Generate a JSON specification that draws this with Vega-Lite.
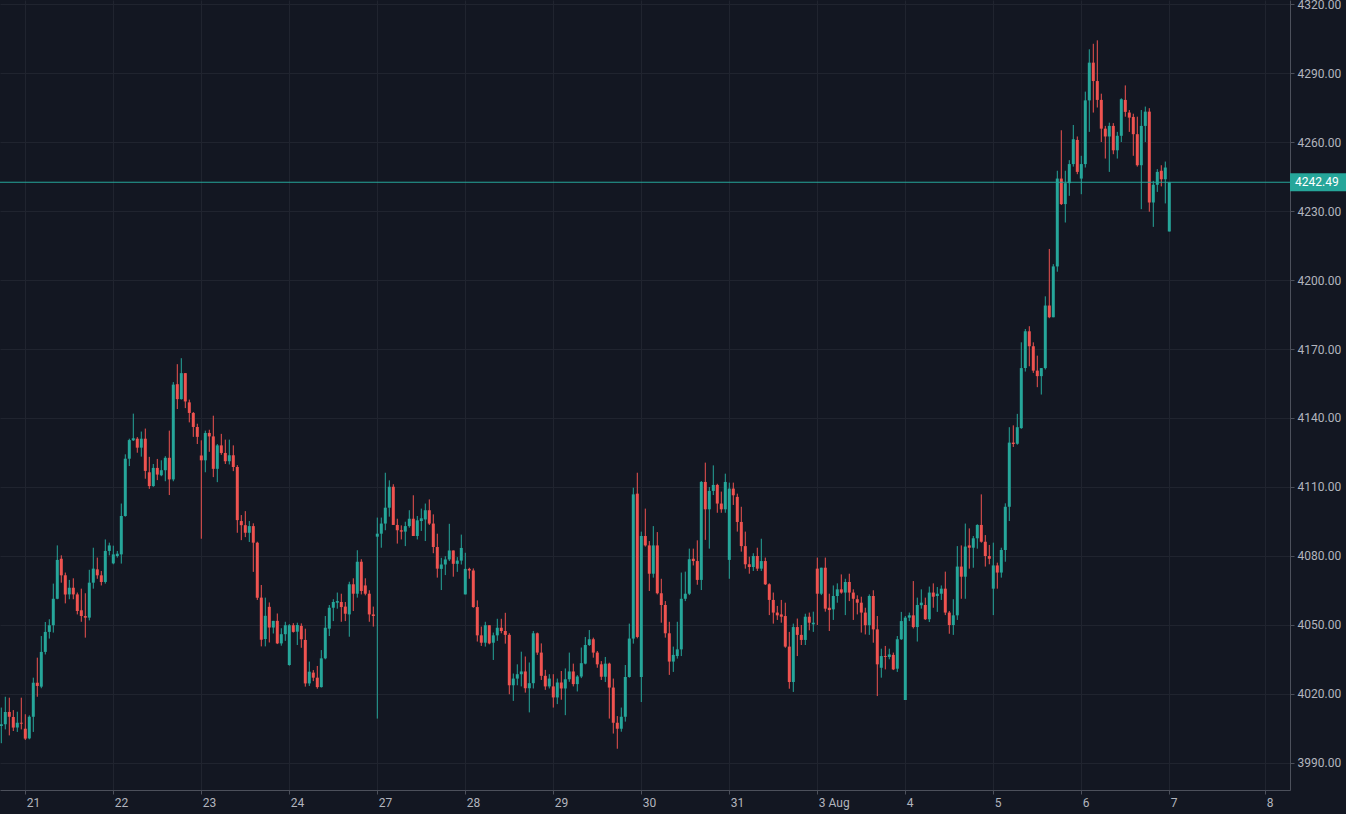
{
  "$schema": "https://vega.github.io/schema/vega-lite/v6.json",
  "width": 1290,
  "height": 790,
  "autosize": {"type": "none"},
  "padding": {"left": 0, "top": 0, "right": 56, "bottom": 24},
  "background": "#131722",
  "config": {
    "view": {"stroke": null},
    "font": "Roboto",
    "scale": {"continuousPadding": 0},
    "axis": {
      "labelColor": "#b2b5be",
      "labelFontSize": 12,
      "labelFont": "Roboto",
      "domainColor": "#4c505b",
      "tickColor": "#4c505b",
      "tickSize": 4,
      "gridColor": "#20242f",
      "gridWidth": 1
    }
  },
  "datasets": {
    "bars": [
      {"i":-6,"o":4006.1,"h":4014.1,"l":3998.6,"c":4006.8},
      {"i":-5,"o":4006.8,"h":4018.8,"l":4004.6,"c":4012.2},
      {"i":-4,"o":4012.2,"h":4018.4,"l":4002.0,"c":4010.1},
      {"i":-3,"o":4010.0,"h":4013.0,"l":4003.9,"c":4005.4},
      {"i":-2,"o":4005.4,"h":4012.3,"l":4003.5,"c":4007.5},
      {"i":-1,"o":4007.5,"h":4018.4,"l":4004.6,"c":4007.1},
      {"i":0,"o":4004.9,"h":4011.2,"l":4000.0,"c":4000.6},
      {"i":1,"o":4000.7,"h":4010.7,"l":4000.3,"c":4010.1},
      {"i":2,"o":4010.1,"h":4027.1,"l":4003.5,"c":4024.9},
      {"i":3,"o":4024.9,"h":4035.8,"l":4018.8,"c":4023.5},
      {"i":4,"o":4023.2,"h":4045.2,"l":4022.5,"c":4038.3},
      {"i":5,"o":4038.3,"h":4051.3,"l":4037.2,"c":4047.0},
      {"i":6,"o":4047.0,"h":4052.5,"l":4044.1,"c":4049.9},
      {"i":7,"o":4049.9,"h":4068.0,"l":4046.7,"c":4061.4},
      {"i":8,"o":4061.4,"h":4084.6,"l":4061.2,"c":4078.3},
      {"i":9,"o":4078.8,"h":4080.3,"l":4068.4,"c":4071.6},
      {"i":10,"o":4071.6,"h":4072.8,"l":4059.4,"c":4063.3},
      {"i":11,"o":4063.3,"h":4069.6,"l":4061.2,"c":4066.2},
      {"i":12,"o":4066.2,"h":4070.3,"l":4061.2,"c":4063.3},
      {"i":13,"o":4063.3,"h":4064.1,"l":4054.6,"c":4056.1},
      {"i":14,"o":4056.4,"h":4065.8,"l":4051.4,"c":4053.9},
      {"i":15,"o":4053.9,"h":4063.8,"l":4044.5,"c":4053.2},
      {"i":16,"o":4053.2,"h":4074.0,"l":4052.0,"c":4068.4},
      {"i":17,"o":4068.4,"h":4083.6,"l":4065.8,"c":4074.5},
      {"i":18,"o":4074.2,"h":4079.3,"l":4070.1,"c":4071.6},
      {"i":19,"o":4071.6,"h":4073.5,"l":4067.2,"c":4068.7},
      {"i":20,"o":4068.7,"h":4087.2,"l":4068.0,"c":4082.2},
      {"i":21,"o":4082.2,"h":4085.8,"l":4080.3,"c":4084.6},
      {"i":22,"o":4076.8,"h":4084.5,"l":4076.4,"c":4080.7},
      {"i":23,"o":4080.0,"h":4082.2,"l":4079.3,"c":4081.0},
      {"i":24,"o":4080.7,"h":4102.8,"l":4076.7,"c":4097.4},
      {"i":25,"o":4097.4,"h":4124.2,"l":4097.1,"c":4122.3},
      {"i":26,"o":4122.3,"h":4131.0,"l":4119.1,"c":4130.4},
      {"i":27,"o":4130.3,"h":4141.9,"l":4130.0,"c":4131.2},
      {"i":28,"o":4131.0,"h":4131.7,"l":4124.9,"c":4127.1},
      {"i":29,"o":4127.1,"h":4134.1,"l":4123.2,"c":4131.0},
      {"i":30,"o":4131.0,"h":4135.4,"l":4113.6,"c":4117.0},
      {"i":31,"o":4116.4,"h":4123.1,"l":4109.2,"c":4110.4},
      {"i":32,"o":4110.4,"h":4120.0,"l":4110.1,"c":4118.3},
      {"i":33,"o":4118.3,"h":4122.2,"l":4113.0,"c":4115.4},
      {"i":34,"o":4115.1,"h":4121.6,"l":4114.7,"c":4117.3},
      {"i":35,"o":4117.3,"h":4123.4,"l":4112.5,"c":4122.7},
      {"i":36,"o":4122.7,"h":4134.5,"l":4106.5,"c":4113.3},
      {"i":37,"o":4113.3,"h":4155.6,"l":4112.5,"c":4154.5},
      {"i":38,"o":4154.7,"h":4163.4,"l":4143.9,"c":4148.2},
      {"i":39,"o":4148.2,"h":4166.0,"l":4148.0,"c":4159.5},
      {"i":40,"o":4159.5,"h":4159.5,"l":4144.3,"c":4147.2},
      {"i":41,"o":4146.8,"h":4148.0,"l":4138.1,"c":4142.2},
      {"i":42,"o":4142.2,"h":4142.6,"l":4131.8,"c":4136.1},
      {"i":43,"o":4136.1,"h":4137.5,"l":4128.7,"c":4131.8},
      {"i":44,"o":4123.7,"h":4130.3,"l":4087.5,"c":4121.6},
      {"i":45,"o":4121.6,"h":4134.5,"l":4116.4,"c":4133.5},
      {"i":46,"o":4133.5,"h":4134.9,"l":4125.3,"c":4132.0},
      {"i":47,"o":4132.0,"h":4141.0,"l":4114.3,"c":4117.9},
      {"i":48,"o":4117.9,"h":4128.7,"l":4112.1,"c":4128.1},
      {"i":49,"o":4128.1,"h":4133.1,"l":4124.0,"c":4124.8},
      {"i":50,"o":4124.8,"h":4130.6,"l":4120.0,"c":4121.2},
      {"i":51,"o":4121.2,"h":4130.6,"l":4119.8,"c":4123.8},
      {"i":52,"o":4123.8,"h":4128.1,"l":4116.9,"c":4118.7},
      {"i":53,"o":4118.7,"h":4119.5,"l":4090.1,"c":4095.6},
      {"i":54,"o":4095.2,"h":4097.8,"l":4086.9,"c":4093.4},
      {"i":55,"o":4093.4,"h":4099.5,"l":4088.2,"c":4090.1},
      {"i":56,"o":4090.1,"h":4095.2,"l":4086.1,"c":4093.0},
      {"i":57,"o":4093.0,"h":4094.2,"l":4073.1,"c":4085.8},
      {"i":58,"o":4085.8,"h":4086.2,"l":4060.9,"c":4061.9},
      {"i":59,"o":4061.9,"h":4067.4,"l":4040.7,"c":4043.6},
      {"i":60,"o":4043.9,"h":4061.9,"l":4040.7,"c":4054.0},
      {"i":61,"o":4057.9,"h":4059.8,"l":4042.4,"c":4048.9},
      {"i":62,"o":4048.9,"h":4051.8,"l":4046.3,"c":4051.8},
      {"i":63,"o":4051.8,"h":4055.0,"l":4041.7,"c":4042.0},
      {"i":64,"o":4042.0,"h":4048.6,"l":4041.0,"c":4046.0},
      {"i":65,"o":4046.0,"h":4051.4,"l":4043.1,"c":4049.9},
      {"i":66,"o":4032.6,"h":4050.4,"l":4032.3,"c":4049.9},
      {"i":67,"o":4049.9,"h":4050.8,"l":4046.7,"c":4047.0},
      {"i":68,"o":4047.1,"h":4051.0,"l":4041.3,"c":4050.0},
      {"i":69,"o":4049.6,"h":4050.7,"l":4040.1,"c":4043.8},
      {"i":70,"o":4043.5,"h":4048.4,"l":4023.2,"c":4024.6},
      {"i":71,"o":4024.6,"h":4034.1,"l":4023.5,"c":4029.7},
      {"i":72,"o":4029.3,"h":4030.4,"l":4025.6,"c":4027.1},
      {"i":73,"o":4027.1,"h":4032.2,"l":4022.3,"c":4023.0},
      {"i":74,"o":4023.0,"h":4039.1,"l":4022.8,"c":4035.5},
      {"i":75,"o":4035.5,"h":4053.9,"l":4035.1,"c":4048.8},
      {"i":76,"o":4048.4,"h":4058.7,"l":4045.2,"c":4057.5},
      {"i":77,"o":4057.5,"h":4061.2,"l":4051.7,"c":4060.0},
      {"i":78,"o":4059.7,"h":4064.1,"l":4057.1,"c":4060.4},
      {"i":79,"o":4060.0,"h":4063.6,"l":4051.4,"c":4057.8},
      {"i":80,"o":4058.0,"h":4060.0,"l":4051.7,"c":4054.9},
      {"i":81,"o":4054.6,"h":4068.8,"l":4044.9,"c":4067.7},
      {"i":82,"o":4067.7,"h":4070.3,"l":4056.1,"c":4063.6},
      {"i":83,"o":4063.6,"h":4082.5,"l":4061.9,"c":4077.5},
      {"i":84,"o":4077.5,"h":4078.6,"l":4063.3,"c":4064.8},
      {"i":85,"o":4067.2,"h":4070.3,"l":4062.9,"c":4063.6},
      {"i":86,"o":4063.6,"h":4065.1,"l":4051.4,"c":4054.6},
      {"i":87,"o":4054.6,"h":4058.0,"l":4049.3,"c":4053.9},
      {"i":88,"o":4088.4,"h":4096.7,"l":4009.3,"c":4089.7},
      {"i":89,"o":4089.7,"h":4096.7,"l":4083.6,"c":4094.1},
      {"i":90,"o":4094.1,"h":4116.2,"l":4091.2,"c":4101.0},
      {"i":91,"o":4101.0,"h":4112.9,"l":4097.1,"c":4110.1},
      {"i":92,"o":4110.1,"h":4111.2,"l":4093.5,"c":4093.5},
      {"i":93,"o":4093.5,"h":4096.2,"l":4085.4,"c":4091.2},
      {"i":94,"o":4091.2,"h":4093.3,"l":4087.2,"c":4090.6},
      {"i":95,"o":4090.6,"h":4094.9,"l":4084.3,"c":4093.0},
      {"i":96,"o":4093.0,"h":4099.9,"l":4092.3,"c":4096.2},
      {"i":97,"o":4096.2,"h":4106.4,"l":4088.7,"c":4088.7},
      {"i":98,"o":4088.7,"h":4097.4,"l":4087.2,"c":4095.5},
      {"i":99,"o":4095.2,"h":4100.6,"l":4090.9,"c":4096.4},
      {"i":100,"o":4095.9,"h":4102.8,"l":4086.5,"c":4099.9},
      {"i":101,"o":4099.9,"h":4104.6,"l":4093.5,"c":4094.1},
      {"i":102,"o":4094.1,"h":4098.1,"l":4081.2,"c":4083.9},
      {"i":103,"o":4083.9,"h":4089.7,"l":4070.6,"c":4074.5},
      {"i":104,"o":4074.4,"h":4079.2,"l":4065.2,"c":4076.3},
      {"i":105,"o":4076.3,"h":4079.9,"l":4071.7,"c":4078.5},
      {"i":106,"o":4078.5,"h":4094.0,"l":4077.8,"c":4082.4},
      {"i":107,"o":4082.4,"h":4082.4,"l":4071.0,"c":4076.6},
      {"i":108,"o":4076.6,"h":4079.5,"l":4073.1,"c":4078.0},
      {"i":109,"o":4078.0,"h":4089.3,"l":4076.3,"c":4083.5},
      {"i":110,"o":4063.3,"h":4081.4,"l":4063.3,"c":4074.4},
      {"i":111,"o":4074.4,"h":4074.9,"l":4070.1,"c":4073.7},
      {"i":112,"o":4073.7,"h":4074.6,"l":4057.5,"c":4057.8},
      {"i":113,"o":4057.8,"h":4060.7,"l":4042.8,"c":4045.5},
      {"i":114,"o":4045.5,"h":4049.3,"l":4040.9,"c":4042.3},
      {"i":115,"o":4042.3,"h":4051.4,"l":4040.6,"c":4049.9},
      {"i":116,"o":4049.9,"h":4049.9,"l":4041.6,"c":4042.0},
      {"i":117,"o":4042.3,"h":4046.7,"l":4034.8,"c":4045.5},
      {"i":118,"o":4045.5,"h":4052.7,"l":4043.1,"c":4048.8},
      {"i":119,"o":4048.8,"h":4052.7,"l":4046.4,"c":4047.4},
      {"i":120,"o":4047.4,"h":4055.3,"l":4041.9,"c":4045.7},
      {"i":121,"o":4045.7,"h":4046.4,"l":4019.9,"c":4023.8},
      {"i":122,"o":4023.8,"h":4028.9,"l":4017.0,"c":4026.7},
      {"i":123,"o":4026.7,"h":4032.9,"l":4023.8,"c":4028.6},
      {"i":124,"o":4028.6,"h":4038.4,"l":4023.3,"c":4029.8},
      {"i":125,"o":4029.8,"h":4036.3,"l":4020.6,"c":4022.5},
      {"i":126,"o":4022.5,"h":4033.7,"l":4012.0,"c":4024.7},
      {"i":127,"o":4024.7,"h":4047.4,"l":4022.4,"c":4046.4},
      {"i":128,"o":4046.4,"h":4046.7,"l":4037.0,"c":4038.0},
      {"i":129,"o":4038.0,"h":4042.0,"l":4026.1,"c":4027.9},
      {"i":130,"o":4027.9,"h":4030.5,"l":4021.8,"c":4023.3},
      {"i":131,"o":4023.3,"h":4028.6,"l":4022.4,"c":4026.7},
      {"i":132,"o":4023.3,"h":4028.6,"l":4014.1,"c":4018.5},
      {"i":133,"o":4018.5,"h":4026.7,"l":4015.6,"c":4025.0},
      {"i":134,"o":4025.0,"h":4030.0,"l":4017.5,"c":4022.4},
      {"i":135,"o":4022.4,"h":4031.1,"l":4010.8,"c":4026.4},
      {"i":136,"o":4026.4,"h":4038.0,"l":4025.3,"c":4029.8},
      {"i":137,"o":4029.8,"h":4033.2,"l":4023.3,"c":4024.3},
      {"i":138,"o":4024.3,"h":4028.2,"l":4021.1,"c":4027.6},
      {"i":139,"o":4027.6,"h":4040.2,"l":4026.9,"c":4033.4},
      {"i":140,"o":4033.2,"h":4044.8,"l":4032.9,"c":4041.3},
      {"i":141,"o":4041.3,"h":4047.8,"l":4040.9,"c":4043.8},
      {"i":142,"o":4043.8,"h":4044.5,"l":4035.8,"c":4038.0},
      {"i":143,"o":4038.0,"h":4038.7,"l":4031.4,"c":4032.9},
      {"i":144,"o":4032.9,"h":4034.3,"l":4026.1,"c":4027.5},
      {"i":145,"o":4027.5,"h":4036.1,"l":4025.2,"c":4033.2},
      {"i":146,"o":4033.2,"h":4033.6,"l":4009.3,"c":4022.8},
      {"i":147,"o":4022.8,"h":4026.7,"l":4002.8,"c":4007.5},
      {"i":148,"o":4007.5,"h":4010.4,"l":3996.2,"c":4004.9},
      {"i":149,"o":4004.9,"h":4014.1,"l":4003.6,"c":4010.1},
      {"i":150,"o":4010.1,"h":4032.6,"l":4008.0,"c":4027.4},
      {"i":151,"o":4027.4,"h":4050.6,"l":4027.1,"c":4044.1},
      {"i":152,"o":4044.1,"h":4109.7,"l":4041.9,"c":4106.8},
      {"i":153,"o":4107.1,"h":4116.2,"l":4044.2,"c":4044.8},
      {"i":154,"o":4027.4,"h":4090.6,"l":4016.5,"c":4088.7},
      {"i":155,"o":4088.7,"h":4100.6,"l":4084.1,"c":4084.6},
      {"i":156,"o":4084.6,"h":4086.5,"l":4064.8,"c":4072.3},
      {"i":157,"o":4072.3,"h":4093.0,"l":4070.6,"c":4084.6},
      {"i":158,"o":4084.6,"h":4090.4,"l":4063.3,"c":4063.8},
      {"i":159,"o":4063.8,"h":4070.1,"l":4051.0,"c":4058.7},
      {"i":160,"o":4058.7,"h":4060.4,"l":4044.5,"c":4046.4},
      {"i":161,"o":4046.4,"h":4051.4,"l":4028.3,"c":4034.1},
      {"i":162,"o":4034.1,"h":4040.6,"l":4029.6,"c":4037.0},
      {"i":163,"o":4036.5,"h":4051.4,"l":4035.4,"c":4039.4},
      {"i":164,"o":4039.4,"h":4072.8,"l":4036.5,"c":4061.4},
      {"i":165,"o":4061.4,"h":4073.2,"l":4060.4,"c":4063.6},
      {"i":166,"o":4063.6,"h":4083.2,"l":4063.0,"c":4078.6},
      {"i":167,"o":4078.8,"h":4083.2,"l":4075.9,"c":4077.8},
      {"i":168,"o":4077.8,"h":4086.8,"l":4067.5,"c":4069.6},
      {"i":169,"o":4069.6,"h":4112.6,"l":4065.2,"c":4112.2},
      {"i":170,"o":4112.2,"h":4120.6,"l":4087.0,"c":4100.3},
      {"i":171,"o":4100.3,"h":4110.0,"l":4083.2,"c":4108.3},
      {"i":172,"o":4108.3,"h":4119.4,"l":4106.5,"c":4110.9},
      {"i":173,"o":4110.9,"h":4111.4,"l":4098.8,"c":4102.8},
      {"i":174,"o":4102.8,"h":4108.0,"l":4098.8,"c":4100.3},
      {"i":175,"o":4100.3,"h":4115.8,"l":4098.8,"c":4112.2},
      {"i":176,"o":4078.3,"h":4111.9,"l":4070.1,"c":4109.3},
      {"i":177,"o":4109.3,"h":4111.9,"l":4102.2,"c":4106.4},
      {"i":178,"o":4105.7,"h":4107.1,"l":4090.6,"c":4094.8},
      {"i":179,"o":4094.8,"h":4101.4,"l":4081.9,"c":4084.3},
      {"i":180,"o":4084.3,"h":4090.6,"l":4074.5,"c":4076.4},
      {"i":181,"o":4076.4,"h":4079.7,"l":4072.3,"c":4075.2},
      {"i":182,"o":4075.2,"h":4081.2,"l":4073.5,"c":4080.0},
      {"i":183,"o":4080.0,"h":4083.6,"l":4073.5,"c":4074.5},
      {"i":184,"o":4074.5,"h":4087.5,"l":4073.5,"c":4077.8},
      {"i":185,"o":4077.8,"h":4079.3,"l":4067.4,"c":4067.7},
      {"i":186,"o":4067.7,"h":4068.1,"l":4054.3,"c":4060.9},
      {"i":187,"o":4060.9,"h":4064.1,"l":4050.6,"c":4055.4},
      {"i":188,"o":4055.4,"h":4058.3,"l":4052.2,"c":4054.2},
      {"i":189,"o":4054.6,"h":4060.9,"l":4051.0,"c":4053.6},
      {"i":190,"o":4053.9,"h":4059.7,"l":4040.1,"c":4040.6},
      {"i":191,"o":4040.6,"h":4047.0,"l":4022.3,"c":4025.2},
      {"i":192,"o":4025.2,"h":4050.6,"l":4020.9,"c":4049.1},
      {"i":193,"o":4049.1,"h":4052.8,"l":4036.5,"c":4045.7},
      {"i":194,"o":4045.7,"h":4050.0,"l":4041.3,"c":4043.5},
      {"i":195,"o":4043.5,"h":4054.9,"l":4041.3,"c":4053.6},
      {"i":196,"o":4053.6,"h":4055.4,"l":4047.7,"c":4051.0},
      {"i":197,"o":4050.3,"h":4055.8,"l":4047.0,"c":4051.0},
      {"i":198,"o":4074.5,"h":4079.3,"l":4050.0,"c":4063.6},
      {"i":199,"o":4063.6,"h":4074.9,"l":4063.0,"c":4074.9},
      {"i":200,"o":4074.9,"h":4079.3,"l":4055.8,"c":4057.1},
      {"i":201,"o":4057.5,"h":4063.6,"l":4047.4,"c":4056.5},
      {"i":202,"o":4056.8,"h":4067.2,"l":4052.2,"c":4062.6},
      {"i":203,"o":4062.6,"h":4068.1,"l":4059.7,"c":4065.5},
      {"i":204,"o":4065.5,"h":4072.0,"l":4063.6,"c":4064.1},
      {"i":205,"o":4064.1,"h":4070.1,"l":4054.3,"c":4068.7},
      {"i":206,"o":4068.7,"h":4072.3,"l":4060.4,"c":4064.1},
      {"i":207,"o":4064.1,"h":4065.5,"l":4052.2,"c":4061.4},
      {"i":208,"o":4061.2,"h":4062.9,"l":4054.6,"c":4059.7},
      {"i":209,"o":4059.7,"h":4062.3,"l":4046.7,"c":4055.4},
      {"i":210,"o":4055.4,"h":4057.5,"l":4045.9,"c":4049.9},
      {"i":211,"o":4049.9,"h":4063.3,"l":4045.7,"c":4062.6},
      {"i":212,"o":4062.6,"h":4065.1,"l":4042.3,"c":4048.1},
      {"i":213,"o":4048.1,"h":4053.9,"l":4019.1,"c":4032.9},
      {"i":214,"o":4031.4,"h":4039.7,"l":4027.1,"c":4036.5},
      {"i":215,"o":4036.5,"h":4040.9,"l":4030.7,"c":4036.1},
      {"i":216,"o":4036.1,"h":4039.7,"l":4035.1,"c":4037.2},
      {"i":217,"o":4037.0,"h":4038.0,"l":4030.4,"c":4030.7},
      {"i":218,"o":4031.0,"h":4045.2,"l":4029.6,"c":4043.8},
      {"i":219,"o":4043.8,"h":4055.7,"l":4043.5,"c":4051.7},
      {"i":220,"o":4017.4,"h":4053.9,"l":4017.4,"c":4053.2},
      {"i":221,"o":4053.2,"h":4055.4,"l":4051.7,"c":4054.2},
      {"i":222,"o":4054.2,"h":4069.1,"l":4048.5,"c":4049.1},
      {"i":223,"o":4049.1,"h":4061.9,"l":4042.8,"c":4058.7},
      {"i":224,"o":4058.6,"h":4065.5,"l":4057.1,"c":4059.7},
      {"i":225,"o":4058.7,"h":4061.9,"l":4052.2,"c":4052.5},
      {"i":226,"o":4052.5,"h":4066.7,"l":4051.3,"c":4064.1},
      {"i":227,"o":4064.1,"h":4068.1,"l":4057.5,"c":4062.3},
      {"i":228,"o":4062.6,"h":4066.5,"l":4055.7,"c":4063.6},
      {"i":229,"o":4063.6,"h":4067.2,"l":4060.9,"c":4065.8},
      {"i":230,"o":4065.8,"h":4073.2,"l":4054.3,"c":4055.4},
      {"i":231,"o":4055.4,"h":4056.1,"l":4046.2,"c":4050.0},
      {"i":232,"o":4050.0,"h":4061.2,"l":4045.7,"c":4054.2},
      {"i":233,"o":4054.2,"h":4084.3,"l":4052.2,"c":4075.4},
      {"i":234,"o":4075.4,"h":4084.6,"l":4061.4,"c":4071.0},
      {"i":235,"o":4071.0,"h":4094.1,"l":4061.4,"c":4084.1},
      {"i":236,"o":4084.6,"h":4092.0,"l":4074.5,"c":4083.6},
      {"i":237,"o":4083.6,"h":4088.7,"l":4074.9,"c":4087.7},
      {"i":238,"o":4087.7,"h":4093.8,"l":4083.2,"c":4093.5},
      {"i":239,"o":4093.5,"h":4106.8,"l":4085.8,"c":4086.2},
      {"i":240,"o":4086.2,"h":4089.1,"l":4075.4,"c":4080.0},
      {"i":241,"o":4080.0,"h":4084.8,"l":4076.4,"c":4078.8},
      {"i":242,"o":4065.8,"h":4085.8,"l":4054.3,"c":4075.9},
      {"i":243,"o":4075.9,"h":4077.1,"l":4065.8,"c":4072.8},
      {"i":244,"o":4072.8,"h":4083.6,"l":4070.6,"c":4082.6},
      {"i":245,"o":4082.6,"h":4102.9,"l":4077.5,"c":4101.4},
      {"i":246,"o":4101.4,"h":4136.0,"l":4095.2,"c":4129.3},
      {"i":247,"o":4129.3,"h":4136.8,"l":4127.4,"c":4128.7},
      {"i":248,"o":4128.8,"h":4141.8,"l":4128.4,"c":4136.0},
      {"i":249,"o":4135.6,"h":4172.9,"l":4135.3,"c":4161.7},
      {"i":250,"o":4161.7,"h":4178.7,"l":4160.2,"c":4177.7},
      {"i":251,"o":4177.7,"h":4179.9,"l":4162.5,"c":4171.2},
      {"i":252,"o":4171.2,"h":4172.9,"l":4159.6,"c":4160.6},
      {"i":253,"o":4160.6,"h":4167.1,"l":4153.4,"c":4158.2},
      {"i":254,"o":4158.2,"h":4161.7,"l":4150.2,"c":4161.7},
      {"i":255,"o":4161.7,"h":4192.9,"l":4161.1,"c":4188.9},
      {"i":256,"o":4188.9,"h":4213.5,"l":4183.4,"c":4183.8},
      {"i":257,"o":4183.8,"h":4206.9,"l":4183.8,"c":4205.9},
      {"i":258,"o":4205.9,"h":4247.5,"l":4203.6,"c":4244.1},
      {"i":259,"o":4244.1,"h":4265.1,"l":4232.6,"c":4233.0},
      {"i":260,"o":4233.0,"h":4247.5,"l":4225.0,"c":4242.1},
      {"i":261,"o":4242.1,"h":4252.1,"l":4236.6,"c":4250.4},
      {"i":262,"o":4250.4,"h":4267.4,"l":4249.3,"c":4261.2},
      {"i":263,"o":4260.9,"h":4262.4,"l":4246.0,"c":4247.0},
      {"i":264,"o":4244.1,"h":4254.0,"l":4237.3,"c":4250.4},
      {"i":265,"o":4250.4,"h":4281.9,"l":4248.9,"c":4278.1},
      {"i":266,"o":4278.1,"h":4300.3,"l":4264.4,"c":4294.5},
      {"i":267,"o":4294.5,"h":4302.7,"l":4272.8,"c":4286.5},
      {"i":268,"o":4286.5,"h":4304.2,"l":4275.0,"c":4278.3},
      {"i":269,"o":4278.3,"h":4281.0,"l":4260.0,"c":4265.8},
      {"i":270,"o":4265.8,"h":4267.0,"l":4252.8,"c":4262.4},
      {"i":271,"o":4262.4,"h":4268.4,"l":4247.0,"c":4267.0},
      {"i":272,"o":4267.0,"h":4268.2,"l":4254.7,"c":4256.4},
      {"i":273,"o":4256.4,"h":4264.4,"l":4252.8,"c":4262.7},
      {"i":274,"o":4262.7,"h":4279.0,"l":4260.0,"c":4278.6},
      {"i":275,"o":4278.3,"h":4284.6,"l":4271.0,"c":4273.1},
      {"i":276,"o":4272.8,"h":4273.9,"l":4264.4,"c":4270.6},
      {"i":277,"o":4270.9,"h":4272.3,"l":4254.0,"c":4263.4},
      {"i":278,"o":4263.4,"h":4271.0,"l":4249.3,"c":4249.9},
      {"i":279,"o":4249.9,"h":4273.9,"l":4230.8,"c":4267.0},
      {"i":280,"o":4267.0,"h":4275.4,"l":4260.0,"c":4273.2},
      {"i":281,"o":4273.2,"h":4274.7,"l":4229.7,"c":4233.7},
      {"i":282,"o":4233.7,"h":4243.1,"l":4223.1,"c":4241.4},
      {"i":283,"o":4241.4,"h":4248.2,"l":4238.3,"c":4247.0},
      {"i":284,"o":4247.5,"h":4249.9,"l":4240.7,"c":4243.8},
      {"i":285,"o":4243.8,"h":4251.5,"l":4233.3,"c":4248.9},
      {"i":286,"o":4221.1,"h":4242.49,"l":4221.1,"c":4242.49}
    ],
    "last": [{"price": 4242.49}]
  },
  "layer": [
    {
      "data": {"name": "bars"},
      "mark": {"type": "rule", "strokeWidth": 1},
      "encoding": {
        "x": {
          "field": "i", "type": "quantitative", "title": null,
          "scale": {"domain": [-6.325, 316.175], "nice": false, "zero": false, "padding": 0},
          "axis": {
            "orient": "bottom",
            "values": [0, 22, 44, 66, 88, 110, 132, 154, 176, 198, 220, 242, 264, 286, 310],
            "labelExpr": "['21','22','23','24','27','28','29','30','31','3 Aug','4','5','6','7','8'][round(datum.value / 22)]",
            "labelAlign": "left",
            "labelOffset": 1,
            "labelFlush": false,
            "labelOverlap": false,
            "grid": true,
            "labelPadding": 3
          }
        },
        "y": {
          "field": "l", "type": "quantitative", "title": null,
          "scale": {"domain": [3978.26, 4321.74], "nice": false, "zero": false, "padding": 0},
          "axis": {
            "orient": "right",
            "values": [3990, 4020, 4050, 4080, 4110, 4140, 4170, 4200, 4230, 4260, 4290, 4320],
            "format": ".2f",
            "grid": true,
            "labelPadding": 3
          }
        },
        "y2": {"field": "h"},
        "color": {"condition": {"test": "datum.c >= datum.o", "value": "#26a69a"}, "value": "#ef5350"}
      }
    },
    {
      "data": {"name": "bars"},
      "mark": {"type": "bar", "width": 3},
      "encoding": {
        "x": {"field": "i", "type": "quantitative", "title": null},
        "y": {"field": "o", "type": "quantitative", "title": null},
        "y2": {"field": "c"},
        "color": {"condition": {"test": "datum.c >= datum.o", "value": "#26a69a"}, "value": "#ef5350"}
      }
    },
    {
      "data": {"name": "last"},
      "mark": {"type": "rule", "color": "#26a69a", "strokeWidth": 1.2},
      "encoding": {
        "y": {"field": "price", "type": "quantitative", "title": null}
      }
    },
    {
      "data": {"name": "last"},
      "mark": {"type": "bar", "orient": "horizontal", "height": 18, "color": "#26a69a"},
      "encoding": {
        "x": {"datum": 316.175, "type": "quantitative", "title": null},
        "x2": {"datum": 330.2},
        "y": {"field": "price", "type": "quantitative", "title": null}
      }
    },
    {
      "data": {"name": "last"},
      "mark": {"type": "text", "align": "left", "baseline": "middle", "dx": 5, "color": "#ffffff", "fontSize": 12, "font": "Roboto"},
      "encoding": {
        "x": {"datum": 316.175, "type": "quantitative", "title": null},
        "y": {"field": "price", "type": "quantitative", "title": null},
        "text": {"field": "price", "type": "quantitative", "format": ".2f"}
      }
    }
  ]
}
